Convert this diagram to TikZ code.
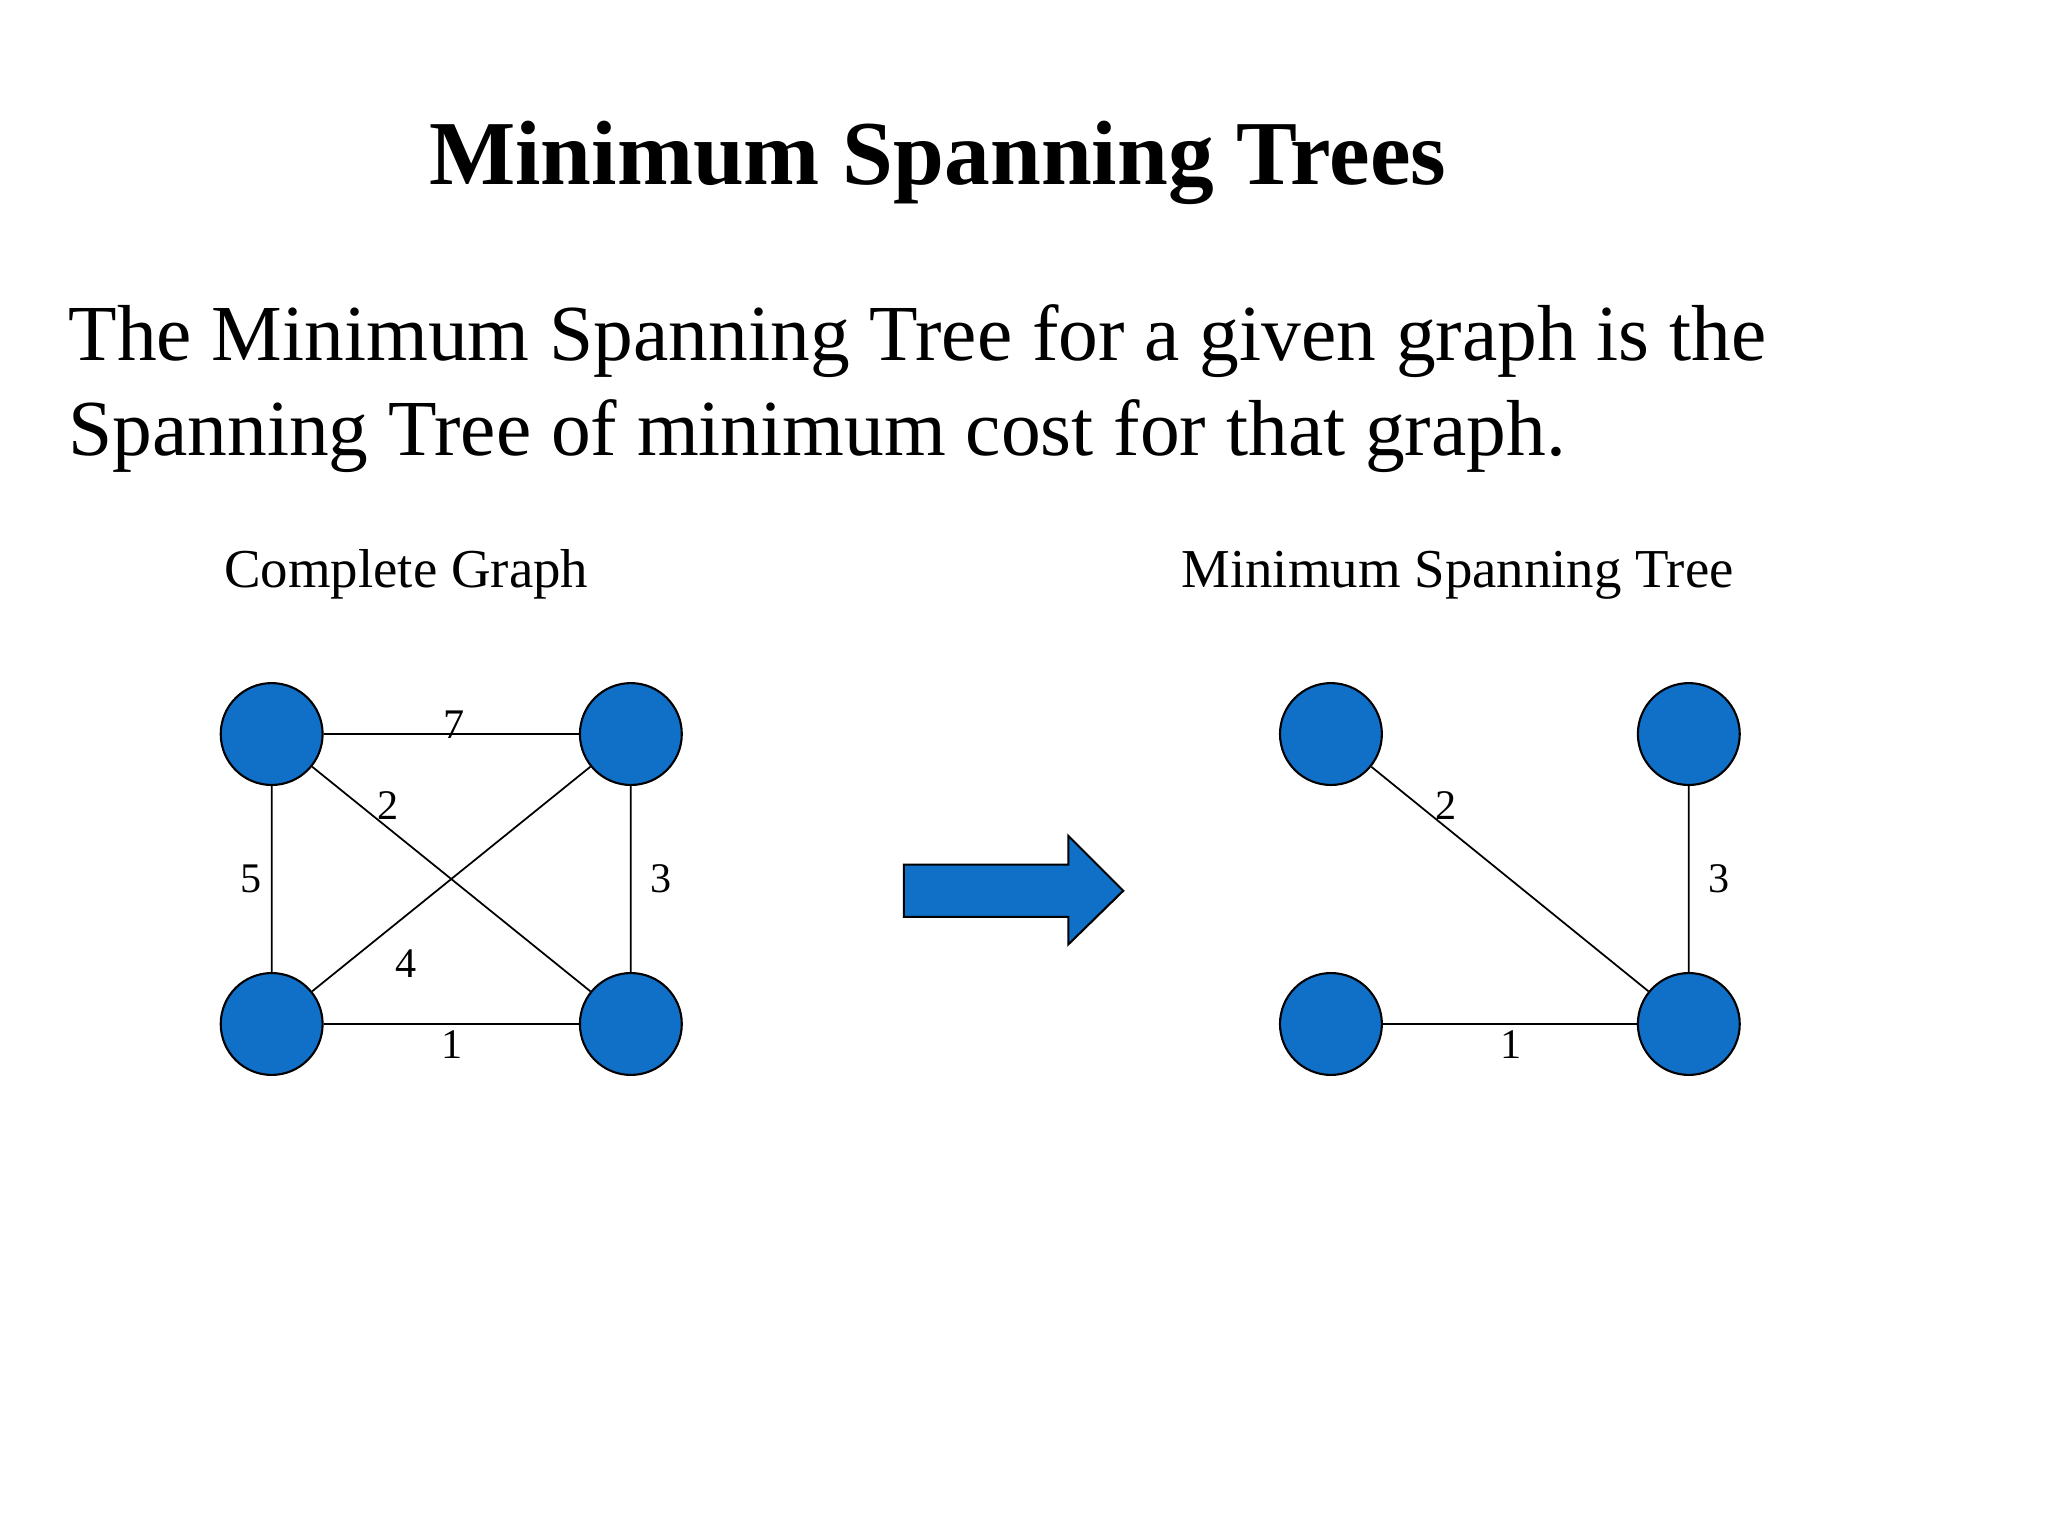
\documentclass[tikz,border=0pt]{standalone}
\usepackage{fontspec}
\setmainfont{Liberation Serif}
\begin{document}
\begin{tikzpicture}[x=0.013061cm,y=-0.013061cm,
  v/.style={circle,draw=black,fill={rgb,255:red,16;green,112;blue,200},minimum size=78*0.013061cm,inner sep=0pt,line width=0.6pt},
  e/.style={draw=black,line width=0.5pt},
  w/.style={font=\fontsize{12}{14}\selectfont,inner sep=0pt}]
\useasboundingbox (0,0) rectangle (1568,1176);
\node[anchor=base,font=\fontsize{26}{30}\selectfont\bfseries] (title) at (718,141) {Minimum Spanning Trees};
\node[anchor=base west,font=\fontsize{22.6}{26}\selectfont,inner sep=0pt] (l1) at (52,276) {The Minimum Spanning Tree for a given graph is the};
\node[anchor=base west,font=\fontsize{22.6}{26}\selectfont,inner sep=0pt] (l2) at (52,349) {Spanning Tree of minimum cost for that graph.};
\node[anchor=base,font=\fontsize{15.6}{18}\selectfont] (cg) at (311,450) {Complete Graph};
\node[anchor=base,font=\fontsize{15.6}{18}\selectfont] (mg) at (1116,450) {Minimum Spanning Tree};
% left graph
\node[v] (a) at (208,562) {};
\node[v] (b) at (483,562) {};
\node[v] (c) at (208,784) {};
\node[v] (d) at (483,784) {};
\draw[e] (a)--(b) (a)--(c) (b)--(d) (c)--(d) (a)--(d) (b)--(c);
\node[w] at (348,555) {7};
\node[w] at (297,617) {2};
\node[w] at (192,673) {5};
\node[w] at (506,673) {3};
\node[w] at (311,738) {4};
\node[w] at (346,800) {1};
% arrow
\draw[fill={rgb,255:red,16;green,112;blue,200},draw=black,line width=0.6pt]
 (692,662)--(818,662)--(818,640)--(860,682)--(818,723)--(818,702)--(692,702)--cycle;
% right graph
\node[v] (p) at (1019,562) {};
\node[v] (q) at (1293,562) {};
\node[v] (r) at (1019,784) {};
\node[v] (s) at (1293,784) {};
\draw[e] (p)--(s) (q)--(s) (r)--(s);
\node[w] at (1107,617) {2};
\node[w] at (1316,673) {3};
\node[w] at (1157,800) {1};
\end{tikzpicture}
\end{document}
